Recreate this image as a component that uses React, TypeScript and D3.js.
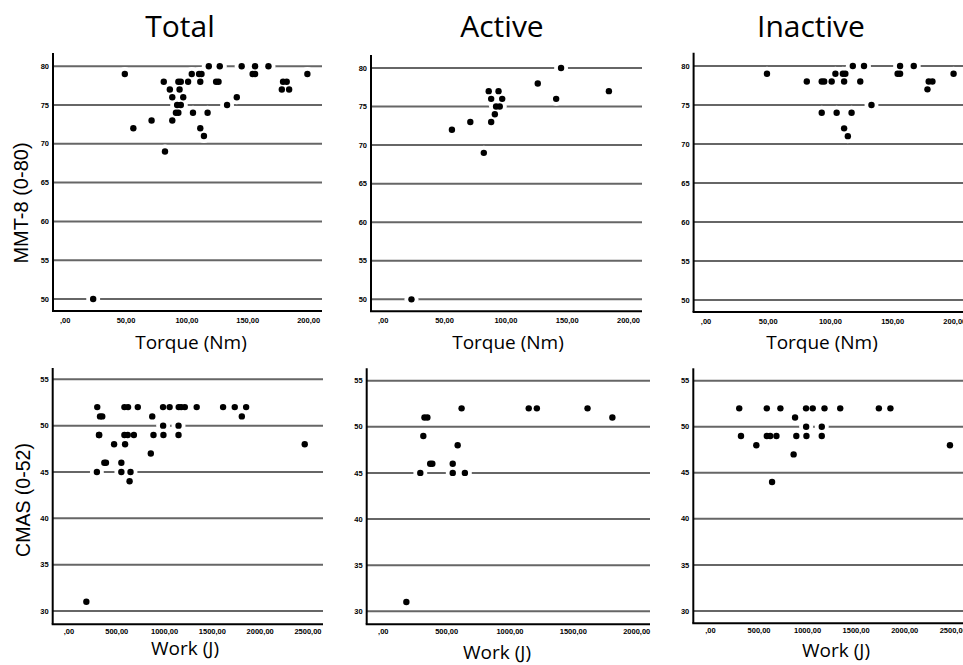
import React from "react";
import * as d3 from "d3";

// torque (Nm) vs MMT-8, active patients
const activeTorque = [23, 56, 71, 82, 86, 88, 88, 91, 92, 94, 95, 97, 126, 141, 145, 184];
const activeMmt = [50, 72, 73, 69, 77, 76, 73, 74, 75, 77, 75, 76, 78, 76, 80, 77];

// torque (Nm) vs MMT-8, inactive patients
const inactiveTorque = [49, 81, 93, 95, 93, 101, 104, 105, 110, 112, 111, 111, 114, 117, 118, 124, 127, 133, 154, 156, 156, 167, 178, 179, 182, 199];
const inactiveMmt = [79, 78, 78, 78, 74, 78, 79, 74, 79, 79, 78, 72, 71, 74, 80, 78, 80, 75, 79, 79, 80, 80, 77, 78, 78, 79];

// work (J) vs CMAS, active patients
const activeWork = [182, 292, 316, 325, 348, 370, 387, 548, 548, 587, 618, 644, 1148, 1212, 1612, 1808];
const activeCmas = [31, 45, 49, 51, 51, 46, 46, 46, 45, 48, 52, 45, 52, 52, 52, 51];

// work (J) vs CMAS, inactive patients
const inactiveWork = [296, 314, 472, 580, 580, 615, 634, 679, 720, 856, 871, 884, 984, 1053, 985, 988, 1146, 1146, 1174, 1336, 1734, 1853, 2466];
const inactiveCmas = [52, 49, 48, 52, 49, 49, 44, 49, 52, 47, 51, 49, 52, 52, 50, 49, 50, 49, 52, 52, 52, 52, 48];

const torqueTicks = [0, 50, 100, 150, 200];
const workTicks = [0, 500, 1000, 1500, 2000, 2500];
const workTicksActive = [0, 500, 1000, 1500, 2000];
const mmtTicks = [50, 55, 60, 65, 70, 75, 80];
const cmasTicks = [30, 35, 40, 45, 50, 55];

const groupTitles = ["Total", "Active", "Inactive"];

const W = 963;
const H = 665;

const zip = (xs: number[], ys: number[]) => xs.map((x, i) => [x, ys[i]]);

const panels = [
  { pts: zip(activeTorque.concat(inactiveTorque), activeMmt.concat(inactiveMmt)), xDomain: [-10, 211], yDomain: [48.45, 81.7], xRange: [53, 322], yRange: [311, 53], xTicks: torqueTicks, yTicks: mmtTicks, tickDy: 11.5 },
  { pts: zip(activeTorque, activeMmt), xDomain: [-10, 211], yDomain: [48.45, 81.7], xRange: [371, 642], yRange: [311.3, 54.9], xTicks: torqueTicks, yTicks: mmtTicks, tickDy: 11.5 },
  { pts: zip(inactiveTorque, inactiveMmt), xDomain: [-10, 211], yDomain: [48.45, 81.7], xRange: [693.6, 968.5], yRange: [312, 52.7], xTicks: torqueTicks, yTicks: mmtTicks, tickDy: 11.5 },
  { pts: zip(activeWork.concat(inactiveWork), activeCmas.concat(inactiveCmas)), xDomain: [-170, 2657], yDomain: [28.57, 56.22], xRange: [52.7, 323], yRange: [624.3, 368], xTicks: workTicks, yTicks: cmasTicks, tickDy: 10 },
  { pts: zip(activeWork, activeCmas), xDomain: [-131, 2105], yDomain: [28.59, 56.34], xRange: [366.7, 650], yRange: [624.3, 368.3], xTicks: workTicksActive, yTicks: cmasTicks, tickDy: 10 },
  { pts: zip(inactiveWork, inactiveCmas), xDomain: [-177, 2657], yDomain: [28.66, 56.35], xRange: [693.3, 968.5], yRange: [623.3, 368.3], xTicks: workTicks, yTicks: cmasTicks, tickDy: 10 },
];

const fmt = (v: number) => (v === 0 ? ",00" : `${v},00`);

const Panel = ({ p }: { p: any }) => {
  const x = d3.scaleLinear().domain(p.xDomain).range(p.xRange);
  const y = d3.scaleLinear().domain(p.yDomain).range(p.yRange);
  const x0 = p.xRange[0];
  const x1 = Math.min(p.xRange[1], W);
  const yb = p.yRange[0];
  const yt = p.yRange[1];
  return (
    <g>
      {p.yTicks.map((t: number) => (
        <g key={"y" + t}>
          <line x1={x0} x2={x1} y1={y(t)} y2={y(t)} stroke="#666" strokeWidth={2} />
          <text x={x0 - 4} y={y(t) + 2.6} textAnchor="end" fontSize={7.5} fontWeight="bold" fontFamily="Liberation Sans, Arial, sans-serif">{t}</text>
        </g>
      ))}
      {p.xTicks.map((t: number) => (
        <text key={"x" + t} x={x(t)} y={yb + p.tickDy} textAnchor="middle" fontSize={7.5} fontWeight="bold" fontFamily="Liberation Sans, Arial, sans-serif">{fmt(t)}</text>
      ))}
      {p.pts.map((d: number[], i: number) => (
        <circle key={"h" + i} cx={x(d[0])} cy={y(d[1])} r={7} fill="#fff" />
      ))}
      {p.pts.map((d: number[], i: number) => (
        <circle key={"c" + i} cx={x(d[0])} cy={y(d[1])} r={3.2} fill="#000" />
      ))}
      <line x1={x0} x2={x0} y1={yt} y2={yb} stroke="#000" strokeWidth={2} />
      <line x1={x0 - 1} x2={x1} y1={yb} y2={yb} stroke="#000" strokeWidth={2} />
    </g>
  );
};

export default function App() {
  const titleX = [180, 502, 811];
  const torqueLabelX = [191, 508, 822];
  const workLabel = [[185, 655], [497, 659], [836, 657]];
  return (
    <div style={{ position: "absolute", left: 0, top: 0 }}>
      <svg width={W} height={H} viewBox={`0 0 ${W} ${H}`} style={{ display: "block", background: "#fff" }}>
        <rect width={W} height={H} fill="#fff" />
        {groupTitles.map((t, i) => (
          <text key={t} x={titleX[i]} y={37} textAnchor="middle" fontSize={30} fontFamily="Open Sans, sans-serif">{t}</text>
        ))}
        {panels.map((p, i) => (
          <Panel key={i} p={p} />
        ))}
        {torqueLabelX.map((cx, i) => (
          <text key={"tq" + i} x={cx} y={349} textAnchor="middle" fontSize={19} fontFamily="Open Sans, sans-serif">Torque (Nm)</text>
        ))}
        {workLabel.map((c, i) => (
          <text key={"wk" + i} x={c[0]} y={c[1]} textAnchor="middle" fontSize={19} fontFamily="Open Sans, sans-serif">Work (J)</text>
        ))}
        <text transform="translate(28,203) rotate(-90)" textAnchor="middle" fontSize={20} fontFamily="Liberation Sans, Arial, sans-serif">MMT-8 (0-80)</text>
        <text transform="translate(30,500) rotate(-90)" textAnchor="middle" fontSize={19.5} fontFamily="Liberation Sans, Arial, sans-serif">CMAS (0-52)</text>
      </svg>
    </div>
  );
}
